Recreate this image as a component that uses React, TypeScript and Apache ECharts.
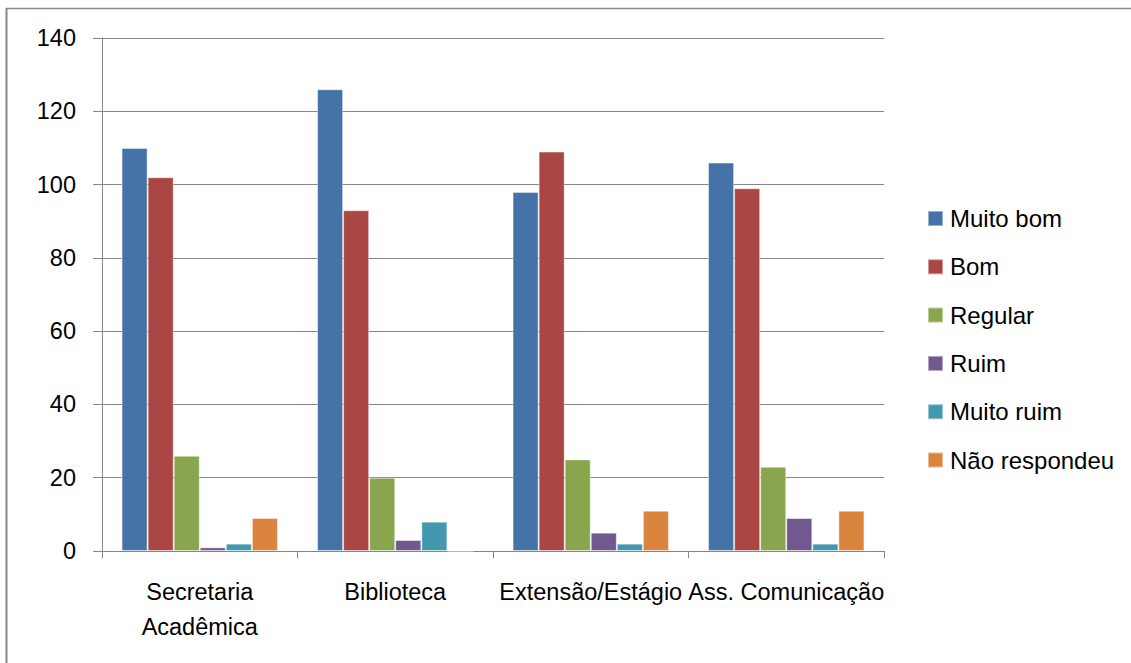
import React, { useEffect, useRef } from "react";
import * as echarts from "echarts";

const categories = ["Secretaria\nAcadêmica", "Biblioteca", "Extensão/Estágio", "Ass. Comunicação"];
const seriesNames = ["Muito bom", "Bom", "Regular", "Ruim", "Muito ruim", "Não respondeu"];
const muitoBom = [110, 126, 98, 106];
const bom = [102, 93, 109, 99];
const regular = [26, 20, 25, 23];
const ruim = [1, 3, 5, 9];
const muitoRuim = [2, 8, 2, 2];
const naoRespondeu = [9, 0, 11, 11];
const colors = ["#4572A7", "#AA4643", "#89A54E", "#71588F", "#4198AF", "#DB843D"];
const yTicks = { min: 0, max: 140, interval: 20 };

const FONT = "'Liberation Sans', Arial, sans-serif";
const FS = 23.5;

export default function App() {
  const ref = useRef<HTMLDivElement>(null);
  useEffect(() => {
    if (!ref.current) return;
    const chart = echarts.init(ref.current, null, { renderer: "svg" });
    const values = [muitoBom, bom, regular, ruim, muitoRuim, naoRespondeu];
    chart.setOption({
      animation: false,
      textStyle: { fontFamily: FONT },
      grid: { left: 102, top: 38, right: 247, bottom: 112, containLabel: false },
      legend: {
        orient: "vertical",
        left: 927,
        top: 206.5,
        padding: 0,
        itemWidth: 15,
        itemHeight: 15,
        itemGap: 24.3,
        icon: "rect",
        data: seriesNames,
        textStyle: { fontFamily: FONT, fontSize: 24, color: "#000", lineHeight: 24, padding: [0, 0, 0, 2] },
      },
      xAxis: {
        type: "category",
        data: categories,
        axisLine: { lineStyle: { color: "#868686", width: 1 } },
        axisTick: { show: true, length: 7, lineStyle: { color: "#868686" } },
        axisLabel: {
          interval: 0,
          hideOverlap: false,
          color: "#000",
          fontFamily: FONT,
          fontSize: FS,
          lineHeight: 35,
          margin: 23,
        },
      },
      yAxis: {
        type: "value",
        min: yTicks.min,
        max: yTicks.max,
        interval: yTicks.interval,
        axisLine: { show: true, lineStyle: { color: "#868686", width: 1 } },
        axisTick: { show: true, length: 9, lineStyle: { color: "#868686" } },
        splitLine: { show: true, lineStyle: { color: "#868686", width: 1 } },
        axisLabel: { color: "#000", fontFamily: FONT, fontSize: FS, margin: 26 },
      },
      series: seriesNames.map((name, i) => ({
        name,
        type: "bar",
        data: values[i],
        barGap: "0%",
        barCategoryGap: "20%",
        itemStyle: { color: colors[i], borderColor: "rgba(255,255,255,0.45)", borderWidth: 1 },
      })),
      graphic: [
        { type: "line", shape: { x1: 6, y1: 8.5, x2: 1131, y2: 8.5 }, style: { stroke: "#888", lineWidth: 1.5 } },
        { type: "line", shape: { x1: 6.5, y1: 8, x2: 6.5, y2: 663 }, style: { stroke: "#888", lineWidth: 2 } },
      ],
    });
    return () => chart.dispose();
  }, []);
  return (
    <div
      ref={ref}
      style={{ position: "fixed", left: 0, top: 0, width: 1131, height: 663, background: "#fff" }}
    />
  );
}
